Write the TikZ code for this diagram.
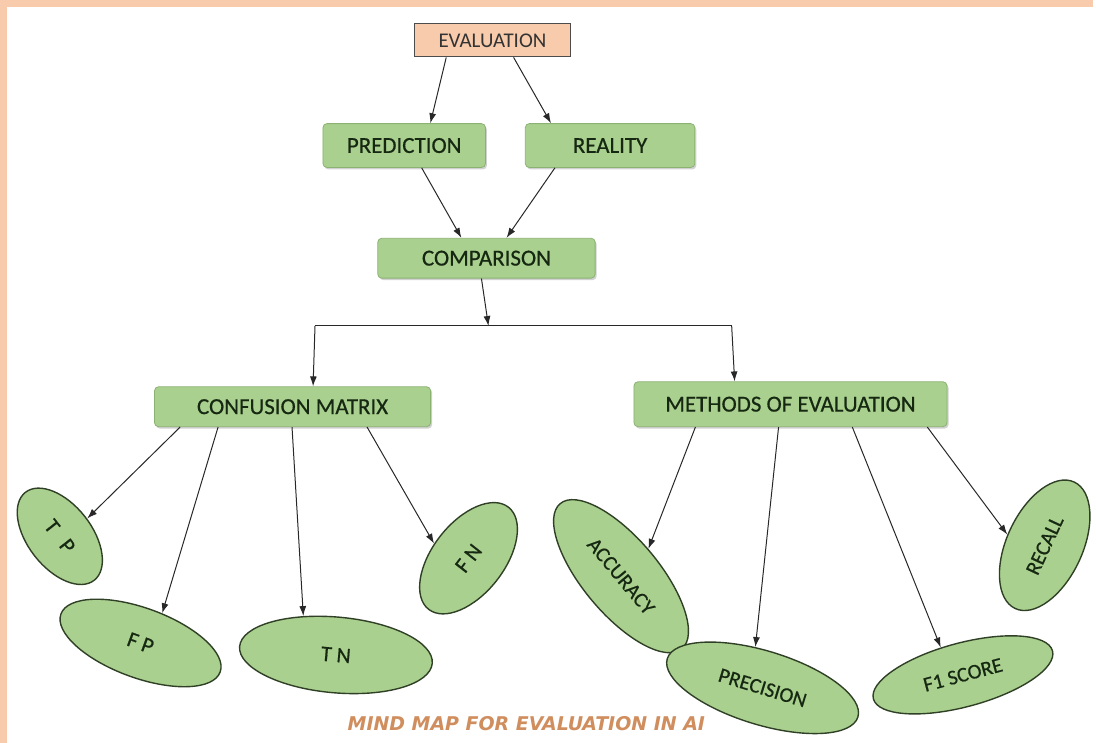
\documentclass[tikz,border=0pt]{standalone}
\usepackage{fontspec}
\setmainfont{Carlito}
\newfontfamily\heavy{Carlito}[FakeBold=0.6]
\newfontfamily\capfont{DejaVu Sans}
\usetikzlibrary{arrows.meta,shapes.geometric,calc,shadows}

\definecolor{peach}{RGB}{247,203,172}
\definecolor{boxgreen}{RGB}{169,208,142}
\definecolor{boxedge}{RGB}{140,178,115}
\definecolor{ovaledge}{RGB}{48,64,38}
\definecolor{txt}{RGB}{22,40,18}
\definecolor{capcol}{RGB}{208,142,94}
\definecolor{arrcol}{RGB}{40,40,40}

\begin{document}
\begin{tikzpicture}[x=1pt,y=-1pt,
 gbox/.style={rectangle,rounded corners=4pt,fill=boxgreen,draw=boxedge,line width=0.8pt,
   text=txt,font=\heavy\fontsize{23}{27}\selectfont,inner sep=0pt,
   drop shadow={shadow xshift=1.5pt,shadow yshift=-2pt,opacity=0.18,fill=black}},
 oval/.style={ellipse,fill=boxgreen,draw=ovaledge,line width=1.4pt,text=txt,inner sep=0pt},
 ovaltext/.style={font=\heavy\fontsize{21}{24}\selectfont},
 smalltext/.style={font=\heavy\fontsize{22}{25}\selectfont},
 arr/.style={draw=arrcol,line width=1pt,-{Latex[length=10pt,width=7pt]}},
 plain/.style={draw=arrcol,line width=1pt},
 ]
\fill[white] (0,0) rectangle (1096,745);
\fill[peach] (0,0) rectangle (1096,7);
\fill[peach] (0,0) rectangle (7,745);

% boxes
\node[rectangle,fill=peach,draw=black!70,line width=1.1pt,text=black!80,
  font=\fontsize{21}{24}\selectfont,minimum width=156pt,minimum height=33pt,inner sep=0pt]
  (ev) at (494,40.5) {EVALUATION};
\node[gbox,minimum width=163pt,minimum height=44pt] (pred) at (405.5,146) {PREDICTION};
\node[gbox,minimum width=170pt,minimum height=44pt] (real) at (612,146) {REALITY};
\node[gbox,minimum width=218pt,minimum height=40pt] (comp) at (488,259) {COMPARISON};
\node[gbox,minimum width=277pt,minimum height=40pt] (cm) at (293.5,408) {CONFUSION MATRIX};
\node[gbox,minimum width=314pt,minimum height=45pt] (me) at (793,405.5) {METHODS OF EVALUATION};

% ellipses
\node[oval,smalltext,minimum width=112pt,minimum height=64pt,rotate=-52] (tp) at (60,538) {T\hspace{14pt}P};
\node[oval,smalltext,minimum width=170pt,minimum height=70pt,rotate=-20] (fp) at (141,645) {F P};
\node[oval,smalltext,minimum width=194pt,minimum height=76pt,rotate=-5] (tn) at (337,657) {T N};
\node[oval,smalltext,minimum width=130pt,minimum height=72pt,rotate=52] (fn) at (470,560) {F N};
\node[oval,ovaltext,minimum width=190pt,minimum height=76pt,rotate=-50] (acc) at (623,578) {ACCURACY};
\node[oval,ovaltext,minimum width=200pt,minimum height=74pt,rotate=-17] (prec) at (765,690) {PRECISION};
\node[oval,ovaltext,minimum width=186pt,minimum height=64pt,rotate=15] (f1) at (966,677) {F1 SCORE};
\node[oval,ovaltext,minimum width=140pt,minimum height=76pt,rotate=65] (rec) at (1048,547) {RECALL};

% caption
\node[text=capcol,font=\capfont\bfseries\itshape\fontsize{19}{22}\selectfont] (cap) at (528,726)
  {MIND MAP FOR EVALUATION IN AI};

% connectors
\draw[arr] ($(ev.south west)!0.205!(ev.south east)$) -- ($(pred.north west)!0.66!(pred.north east)$);
\draw[arr] ($(ev.south west)!0.635!(ev.south east)$) -- ($(real.north west)!0.153!(real.north east)$);
\draw[arr] ($(pred.south west)!0.607!(pred.south east)$) -- ($(comp.north west)!0.385!(comp.north east)$);
\draw[arr] ($(real.south west)!0.176!(real.south east)$) -- ($(comp.north west)!0.592!(comp.north east)$);

\coordinate (jc) at (490,327);
\coordinate (jl) at (316,327);
\coordinate (jr) at (734,327);
\draw[arr] ($(comp.south west)!0.477!(comp.south east)$) -- (jc);
\draw[plain] (jl) -- (jr);
\draw[arr] (jl) -- ($(cm.north west)!0.574!(cm.north east)$);
\draw[arr] (jr) -- ($(me.north west)!0.322!(me.north east)$);

\draw[arr] ($(cm.south west)!0.094!(cm.south east)$) -- (tp.85);
\draw[arr] ($(cm.south west)!0.231!(cm.south east)$) -- (fp.74);
\draw[arr] ($(cm.south west)!0.498!(cm.south east)$) -- (tn.135);
\draw[arr] ($(cm.south west)!0.769!(cm.south east)$) -- (fn.105);

\draw[arr] ($(me.south west)!0.197!(me.south east)$) -- (acc.95);
\draw[arr] ($(me.south west)!0.462!(me.south east)$) -- (prec.117);
\draw[arr] ($(me.south west)!0.697!(me.south east)$) -- (f1.114);
\draw[arr] ($(me.south west)!0.936!(me.south east)$) -- (rec.99);
\end{tikzpicture}
\end{document}
